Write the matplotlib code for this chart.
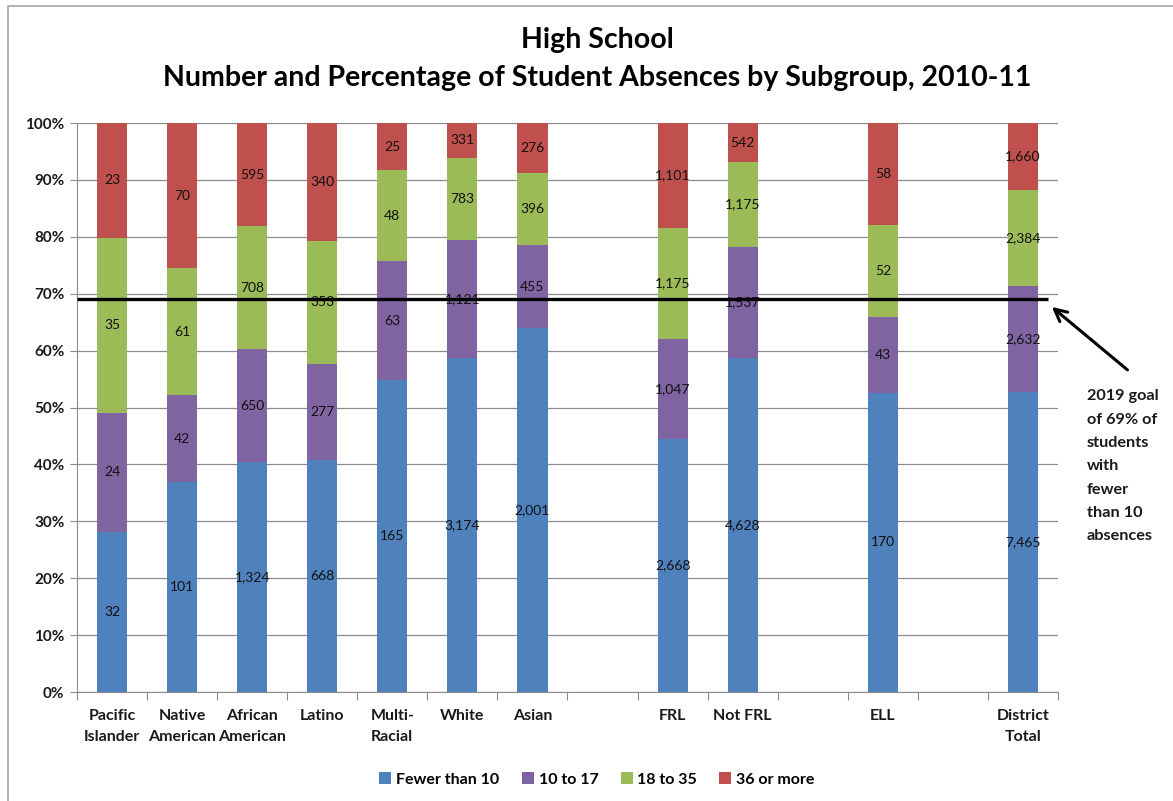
import numpy as np
import matplotlib
matplotlib.use("Agg")
import matplotlib.pyplot as plt
from matplotlib.patches import Rectangle
from matplotlib.ticker import PercentFormatter, FixedLocator

plt.rcParams['font.family'] = ['Lato', 'DejaVu Sans']

# subgroups (empty strings are the gaps between groups)
categories = ["Pacific\nIslander", "Native\nAmerican", "African\nAmerican", "Latino",
              "Multi-\nRacial", "White", "Asian", "", "FRL", "Not FRL", "", "ELL", "",
              "District\nTotal"]
series_names = ["Fewer than 10", "10 to 17", "18 to 35", "36 or more"]
fewer_than_10 = [32, 101, 1324, 668, 165, 3174, 2001, 0, 2668, 4628, 0, 170, 0, 7465]
ten_to_17 = [24, 42, 650, 277, 63, 1121, 455, 0, 1047, 1537, 0, 43, 0, 2632]
eighteen_to_35 = [35, 61, 708, 353, 48, 783, 396, 0, 1175, 1175, 0, 52, 0, 2384]
over_36 = [23, 70, 595, 340, 25, 331, 276, 0, 1101, 542, 0, 58, 0, 1660]
goal = 0.69
colors = ['#4F81BD', '#8064A2', '#9BBB59', '#C0504D']

counts = np.array([fewer_than_10, ten_to_17, eighteen_to_35, over_36], dtype=float)
totals = counts.sum(axis=0)
pct = np.divide(counts, totals, out=np.zeros_like(counts), where=totals > 0)

fig = plt.figure(figsize=(11.73, 8.01), dpi=100)
ax = fig.add_axes([0.0656, 0.136, 0.8364, 0.7104])

x = np.arange(len(categories))
bottom = np.zeros(len(categories))
for i in range(4):
    bars = ax.bar(x, pct[i], 0.43, bottom=bottom, color=colors[i], label=series_names[i], zorder=2)
    labs = ['{:,}'.format(int(v)) if v > 0 else '' for v in counts[i]]
    ax.bar_label(bars, labels=labs, label_type='center', fontsize=10, color='#111111', zorder=4)
    bottom += pct[i]

ax.set_xlim(-0.5, len(categories) - 0.5)
ax.set_ylim(0, 1)
ax.yaxis.set_major_locator(FixedLocator(np.arange(0, 1.01, 0.1)))
ax.yaxis.set_major_formatter(PercentFormatter(1.0, decimals=0))
ax.grid(axis='y', color='#8c8c8c', linewidth=0.9, zorder=0)
ax.set_axisbelow(True)

ax.set_xticks(np.arange(-0.5, len(categories), 1.0))
ax.set_xticklabels([])
ax.set_xticks(x, minor=True)
ax.set_xticklabels(categories, minor=True, fontweight='bold', fontsize=11.5, color='#1a1a1a',
                   linespacing=1.65)
ax.tick_params(axis='x', which='major', length=6, color='#8c8c8c', direction='out')
ax.tick_params(axis='x', which='minor', length=0, pad=12)
ax.tick_params(axis='y', length=5, color='#8c8c8c', labelsize=11, pad=4)
for lab in ax.get_yticklabels():
    lab.set_fontweight('bold')
    lab.set_color('#1a1a1a')

for s in ['top', 'right']:
    ax.spines[s].set_visible(False)
for s in ['left', 'bottom']:
    ax.spines[s].set_color('#8c8c8c')

# goal line and arrow
ax.plot([-0.5, 13.35], [goal, goal], color='black', linewidth=2.4, zorder=5, solid_capstyle='butt')
ax.annotate('', xy=(13.38, goal - 0.01), xycoords='data',
            xytext=(0.963, 0.536), textcoords='figure fraction',
            arrowprops=dict(arrowstyle='->', color='black', lw=2.2, mutation_scale=22), zorder=6)
fig.text(0.9265, 0.514, "2019 goal\nof 69% of\nstudents\nwith\nfewer\nthan 10\nabsences",
         ha='left', va='top', fontsize=11.7, fontweight='bold', linespacing=1.85, color='#1a1a1a')

fig.text(0.509, 0.95, "High School", ha='center', va='center', fontsize=20.5, fontweight='bold')
fig.text(0.509, 0.903, "Number and Percentage of Student Absences by Subgroup, 2010-11",
         ha='center', va='center', fontsize=20.5, fontweight='bold')

leg = fig.legend(loc='center', bbox_to_anchor=(0.509, 0.027), ncol=4, frameon=False,
                 handlelength=0.75, handleheight=0.75, columnspacing=1.4, handletextpad=0.3,
                 prop={'weight': 'bold', 'size': 11.5})

fig.patches.append(Rectangle((0.0068, -0.02), 1.05, 1.0125, transform=fig.transFigure,
                             fill=False, edgecolor='#a6a6a6', linewidth=1.2))

fig.savefig('out.png', dpi=100)
